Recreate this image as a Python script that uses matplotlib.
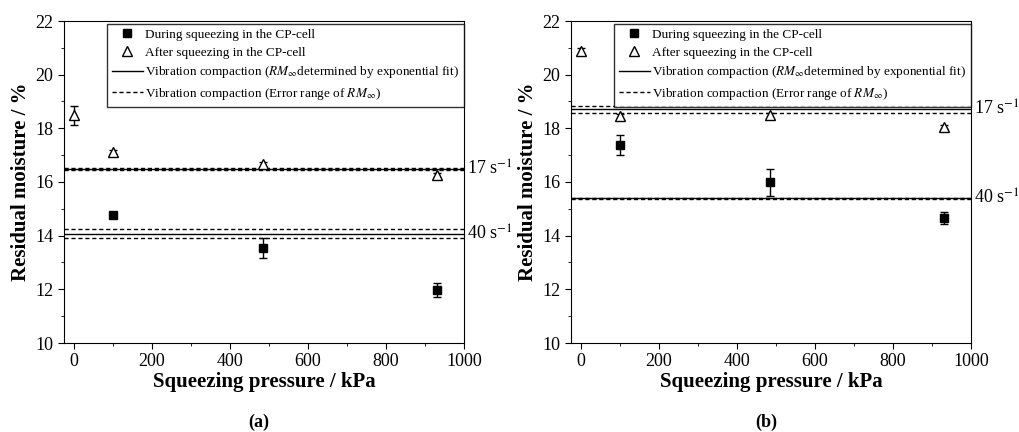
import matplotlib
matplotlib.use("Agg")
import matplotlib.pyplot as plt
from matplotlib.lines import Line2D
from matplotlib.ticker import MultipleLocator

plt.rcParams["font.family"] = ["Liberation Serif", "DejaVu Serif"]
plt.rcParams["mathtext.fontset"] = "stix"

# squeezing pressures (kPa)
x_during = [100, 485, 930]
x_after = [0, 100, 485, 930]

# panel (a)
a_during = [14.76, 13.54, 11.98]
a_during_err = [0.08, 0.37, 0.25]
a_after = [18.48, 17.12, 16.66, 16.27]
a_after_err = [0.36, 0.08, 0.1, 0.08]
a_fit = [16.49, 14.06]          # 17 s^-1, 40 s^-1
a_fit_lo = [16.46, 13.90]
a_fit_hi = [16.52, 14.24]

# panel (b)
b_during = [17.38, 15.99, 14.65]
b_during_err = [0.38, 0.51, 0.22]
b_after = [20.88, 18.45, 18.49, 18.05]
b_after_err = [0.1, 0.1, 0.1, 0.06]
b_fit = [18.72, 15.40]
b_fit_lo = [18.58, 15.38]
b_fit_hi = [18.85, 15.42]

rate_labels = ["17 s$^{-1}$", "40 s$^{-1}$"]
legend_labels = [
    "During squeezing in the CP-cell",
    "After squeezing in the CP-cell",
    "Vibration compaction ($RM_\\infty$determined by exponential fit)",
    "Vibration compaction (Error range of $RM_\\infty$)",
]

fig = plt.figure(figsize=(10.19, 4.32), dpi=100)
W, H = 1019, 432


def panel(left_px, during, during_err, after, after_err, fit, lo, hi, tag):
    ax = fig.add_axes([left_px / W, 1 - 343 / H, 400 / W, 322 / H])
    for y in lo + hi:
        ax.axhline(y, color="black", lw=1.0, ls=(0, (3, 2)))
    for y in fit:
        ax.axhline(y, color="black", lw=1.0)
    ax.errorbar(x_during, during, yerr=during_err, fmt="s", color="black",
                ms=6, capsize=3, elinewidth=1, zorder=5)
    ax.errorbar(x_after, after, yerr=after_err, fmt="^", mfc="white",
                mec="black", color="black", ms=7, capsize=3, elinewidth=1, zorder=5)
    ax.set_xlim(-25, 1000)
    ax.set_ylim(10, 22)
    ax.xaxis.set_major_locator(MultipleLocator(200))
    ax.xaxis.set_minor_locator(MultipleLocator(100))
    ax.yaxis.set_major_locator(MultipleLocator(2))
    ax.yaxis.set_minor_locator(MultipleLocator(1))
    ax.tick_params(which="both", direction="out", top=False, right=False,
                   labelsize=13)
    ax.tick_params(which="major", length=4)
    ax.tick_params(which="minor", length=2.5)
    ax.set_xlabel("Squeezing pressure / kPa", fontsize=15, fontweight="bold",
                  labelpad=1)
    ax.set_ylabel("Residual moisture / %", fontsize=15, fontweight="bold",
                  labelpad=3)
    for y, lab in zip(fit, rate_labels):
        ax.text(1.008, y, lab, transform=ax.get_yaxis_transform(),
                va="center", ha="left", fontsize=13)

    handles = [
        Line2D([], [], marker="s", ls="none", color="black", ms=6),
        Line2D([], [], marker="^", ls="none", mfc="white", mec="black", ms=7),
        Line2D([], [], color="black", lw=1),
        Line2D([], [], color="black", lw=1, ls=(0, (3, 2))),
    ]
    x0 = 43 / 400
    leg = ax.legend(handles, legend_labels, loc="upper left", mode="expand",
                    bbox_to_anchor=(x0, 0, 1 - x0, 0.99), fontsize=9.5,
                    frameon=True, fancybox=False, edgecolor="black",
                    handlelength=2.4, handletextpad=0.15, labelspacing=0.42,
                    borderpad=0.35, borderaxespad=0)
    leg.get_frame().set_linewidth(1.0)
    fig.text((left_px + 195) / W, 1 - 422 / H, tag, ha="center", va="center",
             fontsize=13, fontweight="bold")
    return ax


panel(64, a_during, a_during_err, a_after, a_after_err, a_fit, a_fit_lo,
      a_fit_hi, "(a)")
panel(571, b_during, b_during_err, b_after, b_after_err, b_fit, b_fit_lo,
      b_fit_hi, "(b)")

fig.savefig("out.png", dpi=100)
